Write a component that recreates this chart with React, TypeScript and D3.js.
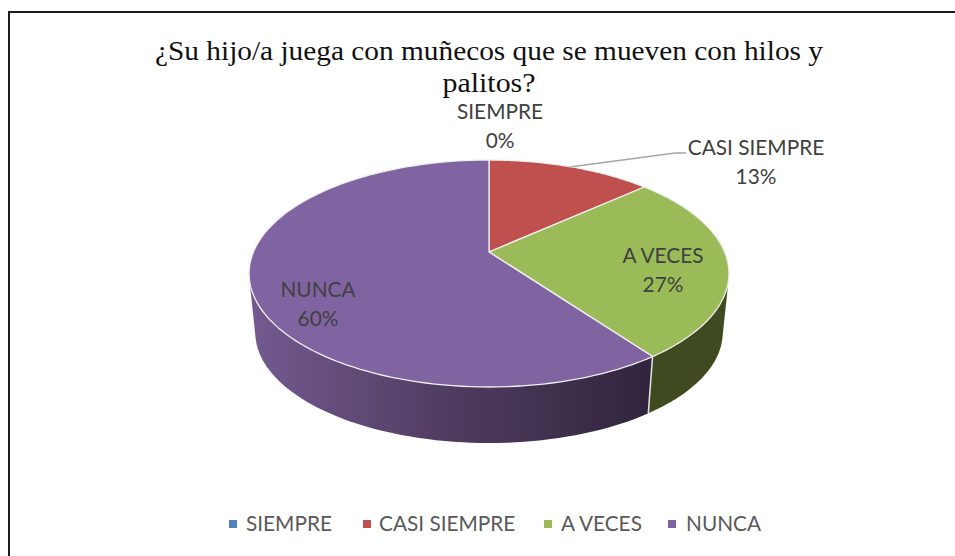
import React from "react";
import * as d3 from "d3";

const categories = ["SIEMPRE", "CASI SIEMPRE", "A VECES", "NUNCA"];
const values = [0, 2, 4, 9];
const percents = ["0%", "13%", "27%", "60%"];
const topColors = ["#4f81bd", "#c0504d", "#9bbb59", "#8064a2"];
const titleLines = ["¿Su hijo/a juega con muñecos que se mueven con hilos y", "palitos?"];
const titleWidths = [668, 93];
const legendMarkerX = [229, 363, 544, 668];
const legendTextX = [246, 379, 561, 686];

const W = 955, H = 556;
const CX = 489, APEX_Y = 252, TOP_BACK = 160, TOP_FRONT = 387;
const C = (2 * APEX_Y - TOP_BACK - TOP_FRONT) / (TOP_FRONT - TOP_BACK) * -1;
const A = TOP_BACK * (1 + C) - APEX_Y;
const K = 235.6;
const VY = 2541, SHRINK = 0.974;

type P = [number, number];
const top = (t: number): P => {
  const u = Math.sin(t), v = Math.cos(t), d = 1 + C * v;
  return [CX + (K * u) / d, (A * v + APEX_Y) / d];
};
const bottom = (t: number): P => {
  const [x, y] = top(t);
  return [CX + (x - CX) * SHRINK, VY + (y - VY) * SHRINK];
};
const samples = (a: number, b: number) => d3.range(0, 121).map((i) => a + ((b - a) * i) / 120);
const line = d3.line<P>();

const pieGen = d3.pie<number>().sort(null)(values);

export default function App() {
  const slices = pieGen;
  const green = slices[2], purple = slices[3];
  const wall = (a: number, b: number) => {
    const s = samples(a, b);
    const hull = d3.polygonHull([...s.map(top), ...s.map(bottom)]) as P[];
    return line(hull) + "Z";
  };
  const face = (a: number, b: number) => line([[CX, APEX_Y], ...samples(a, b).map(top)]) + "Z";
  const seam = [top(purple.startAngle), bottom(purple.startAngle)];
  return (
    <svg width={W} height={H} style={{ position: "absolute", left: 0, top: 0, background: "#fff" }}>
      <defs>
        <linearGradient id="pw" gradientUnits="userSpaceOnUse" x1={250} x2={650} y1={0} y2={0}>
          <stop offset="0" stopColor="#735a90" />
          <stop offset="0.5" stopColor="#4f3c60" />
          <stop offset="1" stopColor="#31253e" />
        </linearGradient>
      </defs>
      <path d="M9 556V12H955" fill="none" stroke="#1c1c1c" strokeWidth={2} />
      <g fontFamily="'Liberation Serif', serif" fontSize={27} fill="#111" textAnchor="middle">
        {titleLines.map((t, i) => (
          <text key={i} x={CX} y={60 + i * 32} textLength={titleWidths[i]} lengthAdjust="spacingAndGlyphs">{t}</text>
        ))}
      </g>
      <path d={wall(green.startAngle, green.endAngle)} fill="#3f4a20" />
      <path d={wall(purple.startAngle, purple.endAngle)} fill="url(#pw)" />
      <path d={line(seam as P[])!} stroke="#e4e4e4" strokeWidth={1.5} fill="none" />
      {slices.map((s, i) => (
        <path key={i} d={face(s.startAngle, s.endAngle)} fill={topColors[i]} stroke="#f0f0f0" strokeWidth={1.3} strokeLinejoin="round" />
      ))}
      <path d="M570 167L675 153L686 153" fill="none" stroke="#a6a6a6" strokeWidth={1.3} />
      <g fontFamily="Lato, sans-serif" fontSize={20.8} fill="#404040" textAnchor="middle">
        <text x={500} y={119}>{categories[0]}</text>
        <text x={500} y={148}>{percents[0]}</text>
        <text x={756} y={155}>{categories[1]}</text>
        <text x={756} y={184}>{percents[1]}</text>
        <text x={663} y={263}>{categories[2]}</text>
        <text x={663} y={292}>{percents[2]}</text>
        <text x={318} y={297}>{categories[3]}</text>
        <text x={318} y={326}>{percents[3]}</text>
      </g>
      <g fontFamily="Lato, sans-serif" fontSize={20.8} fill="#595959">
        {legendMarkerX.map((x, i) => (
          <g key={i}>
            <rect x={x} y={520} width={8} height={8} fill={topColors[i]} />
            <text x={legendTextX[i]} y={531}>{categories[i]}</text>
          </g>
        ))}
      </g>
    </svg>
  );
}
